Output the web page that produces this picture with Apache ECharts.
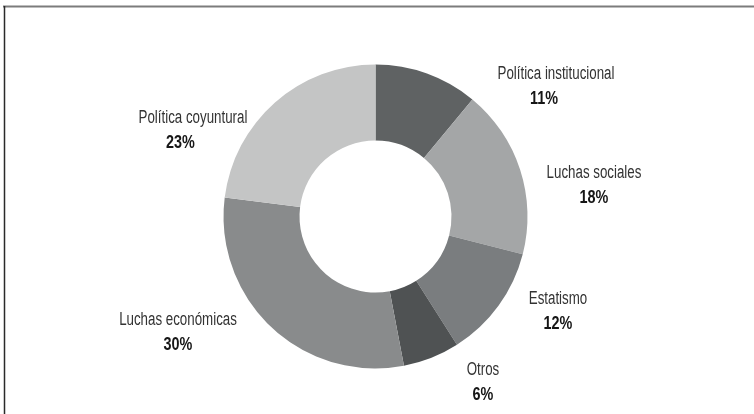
<!DOCTYPE html>
<html>
<head>
<meta charset="utf-8">
<style>
  html, body { margin: 0; padding: 0; background: #fff; }
  #chart { width: 754px; height: 414px; }
</style>
<script src="https://cdn.jsdelivr.net/npm/echarts@6/dist/echarts.min.js"></script>
</head>
<body>
<div id="chart"></div>
<script>
// Categories and shares (%), clockwise from 12 o'clock
const categories = ['Política institucional', 'Luchas sociales', 'Estatismo', 'Otros', 'Luchas económicas', 'Política coyuntural'];
const shares = [11, 18, 12, 6, 30, 23];
const sliceColors = ['#5f6263', '#a4a6a7', '#7a7d7f', '#4f5253', '#898b8c', '#c4c5c5'];

// Label placement: centre of the name line [x, y] and centre x of the percentage line
const labelSpots = [[556, 74, 544], [594, 173, 594], [558, 299, 558], [483, 370, 483], [178, 320, 178], [193, 118, 180.5]];
const LINE_GAP = 25.5;

const chart = echarts.init(document.getElementById('chart'), null, { renderer: 'canvas' });

const FONT = "'Liberation Sans', Arial, sans-serif";

const frame = [
  { type: 'line', silent: true, shape: { x1: 3, y1: 6.5, x2: 754, y2: 6.5 }, style: { stroke: '#7c7c7c', lineWidth: 2 } },
  { type: 'line', silent: true, shape: { x1: 4.5, y1: 6, x2: 4.5, y2: 414 }, style: { stroke: '#2a2a2a', lineWidth: 1.5 } }
];

// Two-line labels (name, then bold percentage) built from the data arrays,
// squeezed horizontally for a condensed face
const labels = [];
categories.forEach((name, i) => {
  const s = labelSpots[i];
  labels.push({
    type: 'text', silent: true, x: s[0], y: s[1], scaleX: 0.74,
    style: { text: name, font: '18px ' + FONT, fill: '#333333', textAlign: 'center', textVerticalAlign: 'middle' }
  });
  labels.push({
    type: 'text', silent: true, x: s[2], y: s[1] + LINE_GAP, scaleX: 0.8,
    style: { text: shares[i] + '%', font: 'bold 18px ' + FONT, fill: '#161616', textAlign: 'center', textVerticalAlign: 'middle' }
  });
});

chart.setOption({
  animation: false,
  backgroundColor: '#ffffff',
  graphic: frame.concat(labels),
  series: [{
    type: 'pie',
    center: [375.5, 216.5],
    radius: [76, 152],
    startAngle: 90,
    clockwise: true,
    silent: true,
    label: { show: false },
    labelLine: { show: false },
    itemStyle: { borderWidth: 0 },
    data: categories.map((name, i) => ({ name: name, value: shares[i], itemStyle: { color: sliceColors[i] } }))
  }]
});
</script>
</body>
</html>
